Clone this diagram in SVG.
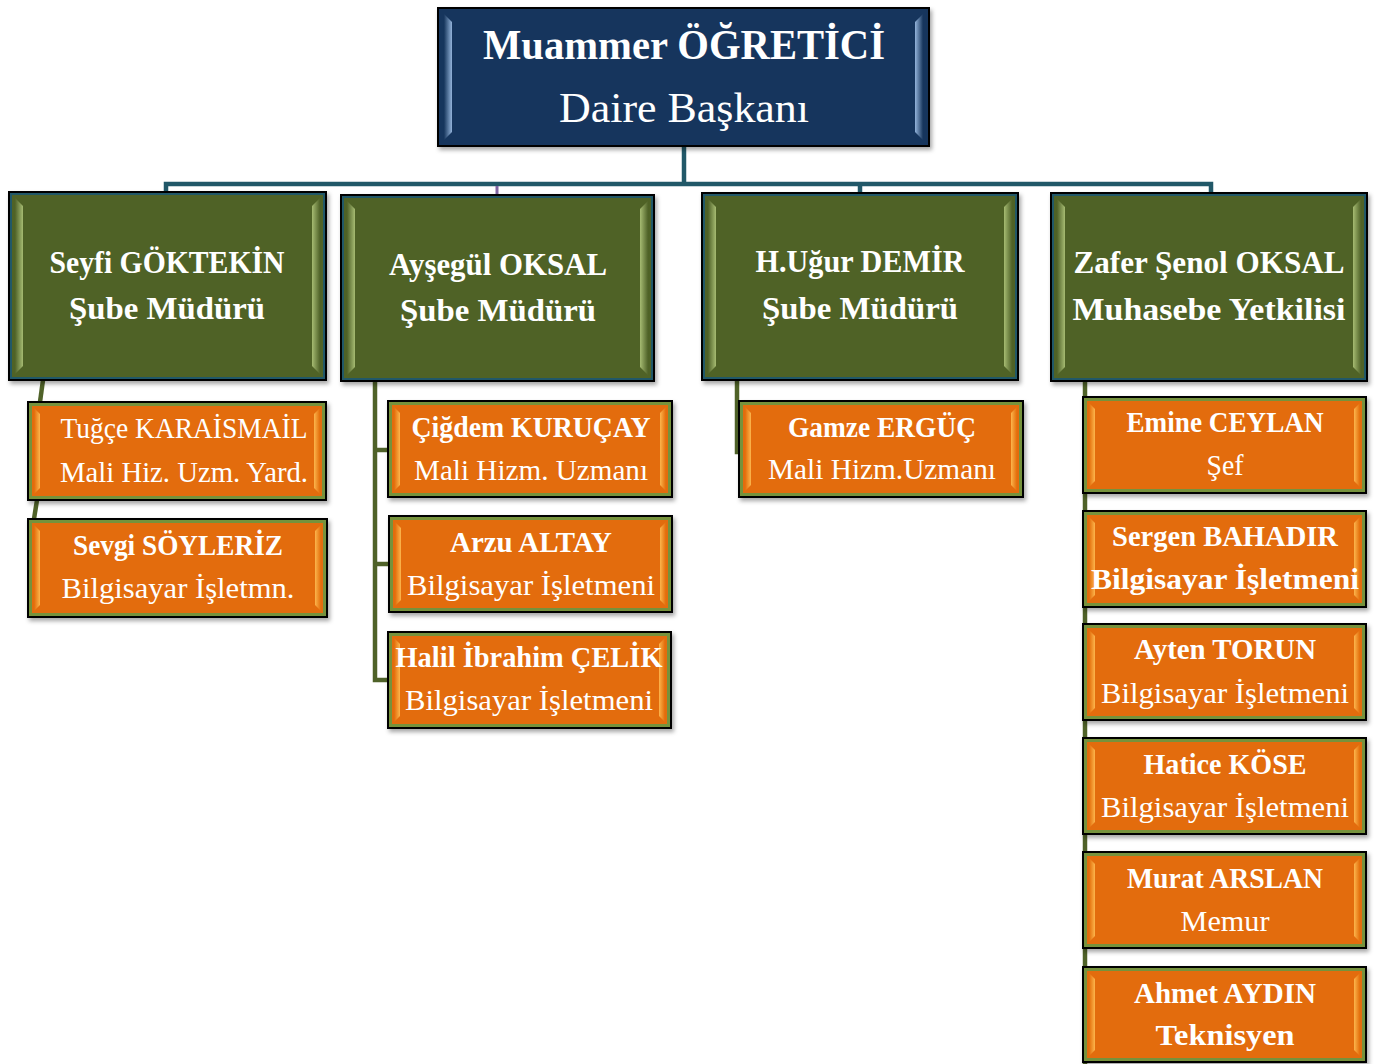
<svg xmlns="http://www.w3.org/2000/svg" width="1378" height="1064" viewBox="0 0 1378 1064">
<style>
.t{font-family:"Liberation Serif","DejaVu Serif",serif;fill:#ffffff;text-anchor:middle}
.b{font-weight:bold}
.top{font-size:42px}
.gt{font-size:31px}
.ot{font-size:29.5px}
.navy{fill:#17365d;stroke:#000;stroke-width:2}
.green{fill:#4f6228;stroke:#000;stroke-width:2}
.gin{fill:none;stroke:#215868;stroke-width:2}
.orange{fill:#e36c09;stroke:#000;stroke-width:2}
.oin{fill:none;stroke:#76923c;stroke-width:3}
.teal{stroke:#215868;stroke-width:4.5;fill:none}
.olive{stroke:#4f6228;stroke-width:4.5;fill:none}
</style>
<defs>
<filter id="sh" x="-5%" y="-5%" width="115%" height="120%"><feDropShadow dx="2" dy="3" stdDeviation="2" flood-color="#000" flood-opacity="0.35"/></filter>
<linearGradient id="nL" x1="0" y1="0" x2="1" y2="0"><stop offset="0" stop-color="#17365d"/><stop offset="1" stop-color="#93b3da"/></linearGradient>
<linearGradient id="nR" x1="1" y1="0" x2="0" y2="0"><stop offset="0" stop-color="#17365d"/><stop offset="1" stop-color="#93b3da"/></linearGradient>
<linearGradient id="gL" x1="0" y1="0" x2="1" y2="0"><stop offset="0" stop-color="#4f6228"/><stop offset="1" stop-color="#a6bb72"/></linearGradient>
<linearGradient id="gR" x1="1" y1="0" x2="0" y2="0"><stop offset="0" stop-color="#4f6228"/><stop offset="1" stop-color="#a6bb72"/></linearGradient>
<linearGradient id="oL" x1="0" y1="0" x2="1" y2="0"><stop offset="0" stop-color="#e36c09"/><stop offset="1" stop-color="#fcb54c"/></linearGradient>
<linearGradient id="oR" x1="1" y1="0" x2="0" y2="0"><stop offset="0" stop-color="#e36c09"/><stop offset="1" stop-color="#fcb54c"/></linearGradient>
</defs>

<g id="connectors">
<polyline class="teal" points="684,146 684,184"/>
<polyline class="teal" points="166,192 166,184 1211,184 1211,193"/>
<line class="teal" x1="860" y1="184" x2="860" y2="193"/>
<line x1="497" y1="186" x2="497" y2="195" stroke="#8064a2" stroke-width="3"/>
<line class="olive" x1="43" y1="380" x2="40" y2="402"/>
<line class="olive" x1="37" y1="500" x2="34" y2="519"/>
<polyline class="olive" points="375,381 375,680 390,680"/>
<line class="olive" x1="375" y1="450" x2="390" y2="450"/>
<line class="olive" x1="375" y1="564" x2="390" y2="564"/>
<polyline class="olive" points="737,380 737,452 740,452"/>
<line class="olive" x1="1085" y1="381" x2="1085" y2="1064"/>
</g>

<g id="n-muammer">
<rect class="navy" x="438" y="8" width="491" height="138" filter="url(#sh)"/>
<polygon fill="url(#nL)" points="444,14 452,22 452,132 444,140"/>
<polygon fill="url(#nR)" points="923,14 915,22 915,132 923,140"/>
<text class="t b top" x="684" y="59" textLength="402" lengthAdjust="spacingAndGlyphs">Muammer ÖĞRETİCİ</text>
<text class="t top" x="684" y="122" textLength="250" lengthAdjust="spacingAndGlyphs">Daire Başkanı</text>
</g>

<g id="n-seyfi">
<rect class="green" x="9" y="192" width="317" height="188" filter="url(#sh)"/>
<rect class="gin" x="11" y="194" width="313" height="184"/>
<polygon fill="url(#gL)" points="15,198 23,206 23,366 15,374"/>
<polygon fill="url(#gR)" points="320,198 312,206 312,366 320,374"/>
<text class="t b gt" x="167" y="273" textLength="235" lengthAdjust="spacingAndGlyphs">Seyfi GÖKTEKİN</text>
<text class="t b gt" x="167" y="319" textLength="196" lengthAdjust="spacingAndGlyphs">Şube Müdürü</text>
</g>

<g id="n-aysegul">
<rect class="green" x="341" y="195" width="313" height="186" filter="url(#sh)"/>
<rect class="gin" x="343" y="197" width="309" height="182"/>
<polygon fill="url(#gL)" points="347,201 355,209 355,367 347,375"/>
<polygon fill="url(#gR)" points="648,201 640,209 640,367 648,375"/>
<text class="t b gt" x="498" y="275" textLength="218" lengthAdjust="spacingAndGlyphs">Ayşegül OKSAL</text>
<text class="t b gt" x="498" y="321" textLength="196" lengthAdjust="spacingAndGlyphs">Şube Müdürü</text>
</g>

<g id="n-ugur">
<rect class="green" x="702" y="193" width="316" height="187" filter="url(#sh)"/>
<rect class="gin" x="704" y="195" width="312" height="183"/>
<polygon fill="url(#gL)" points="708,199 716,207 716,366 708,374"/>
<polygon fill="url(#gR)" points="1012,199 1004,207 1004,366 1012,374"/>
<text class="t b gt" x="860" y="272" textLength="209" lengthAdjust="spacingAndGlyphs">H.Uğur DEMİR</text>
<text class="t b gt" x="860" y="319" textLength="196" lengthAdjust="spacingAndGlyphs">Şube Müdürü</text>
</g>

<g id="n-zafer">
<rect class="green" x="1051" y="193" width="316" height="188" filter="url(#sh)"/>
<rect class="gin" x="1053" y="195" width="312" height="184"/>
<polygon fill="url(#gL)" points="1057,199 1065,207 1065,367 1057,375"/>
<polygon fill="url(#gR)" points="1361,199 1353,207 1353,367 1361,375"/>
<text class="t b gt" x="1209" y="273" textLength="271" lengthAdjust="spacingAndGlyphs">Zafer Şenol OKSAL</text>
<text class="t b gt" x="1209" y="320" textLength="273" lengthAdjust="spacingAndGlyphs">Muhasebe Yetkilisi</text>
</g>

<g id="n-tugce">
<rect class="orange" x="28" y="402" width="298" height="98" filter="url(#sh)"/>
<rect class="oin" x="30.5" y="404.5" width="293" height="93"/>
<polygon fill="url(#oL)" points="34,408 40,414 40,488 34,494"/>
<polygon fill="url(#oR)" points="320,408 314,414 314,488 320,494"/>
<text class="t ot" x="184" y="438" textLength="247" lengthAdjust="spacingAndGlyphs">Tuğçe KARAİSMAİL</text>
<text class="t ot" x="184" y="482" textLength="248" lengthAdjust="spacingAndGlyphs">Mali Hiz. Uzm. Yard.</text>
</g>

<g id="n-sevgi">
<rect class="orange" x="28" y="519" width="299" height="98" filter="url(#sh)"/>
<rect class="oin" x="30.5" y="521.5" width="294" height="93"/>
<polygon fill="url(#oL)" points="34,525 40,531 40,605 34,611"/>
<polygon fill="url(#oR)" points="321,525 315,531 315,605 321,611"/>
<text class="t b ot" x="178" y="555" textLength="210" lengthAdjust="spacingAndGlyphs">Sevgi SÖYLERİZ</text>
<text class="t ot" x="178" y="598" textLength="233" lengthAdjust="spacingAndGlyphs">Bilgisayar İşletmn.</text>
</g>

<g id="n-cigdem">
<rect class="orange" x="388" y="401" width="284" height="96" filter="url(#sh)"/>
<rect class="oin" x="390.5" y="403.5" width="279" height="91"/>
<polygon fill="url(#oL)" points="394,407 400,413 400,485 394,491"/>
<polygon fill="url(#oR)" points="666,407 660,413 660,485 666,491"/>
<text class="t b ot" x="531" y="437" textLength="239" lengthAdjust="spacingAndGlyphs">Çiğdem KURUÇAY</text>
<text class="t ot" x="531" y="480" textLength="234" lengthAdjust="spacingAndGlyphs">Mali Hizm. Uzmanı</text>
</g>

<g id="n-arzu">
<rect class="orange" x="389" y="516" width="283" height="96" filter="url(#sh)"/>
<rect class="oin" x="391.5" y="518.5" width="278" height="91"/>
<polygon fill="url(#oL)" points="395,522 401,528 401,600 395,606"/>
<polygon fill="url(#oR)" points="666,522 660,528 660,600 666,606"/>
<text class="t b ot" x="531" y="552" textLength="162" lengthAdjust="spacingAndGlyphs">Arzu ALTAY</text>
<text class="t ot" x="531" y="595" textLength="248" lengthAdjust="spacingAndGlyphs">Bilgisayar İşletmeni</text>
</g>

<g id="n-halil">
<rect class="orange" x="388" y="632" width="283" height="96" filter="url(#sh)"/>
<rect class="oin" x="390.5" y="634.5" width="278" height="91"/>
<polygon fill="url(#oL)" points="394,638 400,644 400,716 394,722"/>
<polygon fill="url(#oR)" points="665,638 659,644 659,716 665,722"/>
<text class="t b ot" x="529" y="667" textLength="267" lengthAdjust="spacingAndGlyphs">Halil İbrahim ÇELİK</text>
<text class="t ot" x="529" y="710" textLength="248" lengthAdjust="spacingAndGlyphs">Bilgisayar İşletmeni</text>
</g>

<g id="n-gamze">
<rect class="orange" x="739" y="401" width="284" height="96" filter="url(#sh)"/>
<rect class="oin" x="741.5" y="403.5" width="279" height="91"/>
<polygon fill="url(#oL)" points="745,407 751,413 751,485 745,491"/>
<polygon fill="url(#oR)" points="1017,407 1011,413 1011,485 1017,491"/>
<text class="t b ot" x="882" y="437" textLength="188" lengthAdjust="spacingAndGlyphs">Gamze ERGÜÇ</text>
<text class="t ot" x="882" y="479" textLength="228" lengthAdjust="spacingAndGlyphs">Mali Hizm.Uzmanı</text>
</g>

<g id="n-emine">
<rect class="orange" x="1083" y="397" width="283" height="96" filter="url(#sh)"/>
<rect class="oin" x="1085.5" y="399.5" width="278" height="91"/>
<polygon fill="url(#oL)" points="1089,403 1095,409 1095,481 1089,487"/>
<polygon fill="url(#oR)" points="1360,403 1354,409 1354,481 1360,487"/>
<text class="t b ot" x="1225" y="432" textLength="197" lengthAdjust="spacingAndGlyphs">Emine CEYLAN</text>
<text class="t ot" x="1225" y="475" textLength="37" lengthAdjust="spacingAndGlyphs">Şef</text>
</g>

<g id="n-sergen">
<rect class="orange" x="1083" y="511" width="283" height="96" filter="url(#sh)"/>
<rect class="oin" x="1085.5" y="513.5" width="278" height="91"/>
<polygon fill="url(#oL)" points="1089,517 1095,523 1095,595 1089,601"/>
<polygon fill="url(#oR)" points="1360,517 1354,523 1354,595 1360,601"/>
<text class="t b ot" x="1225" y="546" textLength="226" lengthAdjust="spacingAndGlyphs">Sergen BAHADIR</text>
<text class="t b ot" x="1225" y="589" textLength="268" lengthAdjust="spacingAndGlyphs">Bilgisayar İşletmeni</text>
</g>

<g id="n-ayten">
<rect class="orange" x="1083" y="624" width="283" height="96" filter="url(#sh)"/>
<rect class="oin" x="1085.5" y="626.5" width="278" height="91"/>
<polygon fill="url(#oL)" points="1089,630 1095,636 1095,708 1089,714"/>
<polygon fill="url(#oR)" points="1360,630 1354,636 1354,708 1360,714"/>
<text class="t b ot" x="1225" y="659" textLength="182" lengthAdjust="spacingAndGlyphs">Ayten TORUN</text>
<text class="t ot" x="1225" y="703" textLength="248" lengthAdjust="spacingAndGlyphs">Bilgisayar İşletmeni</text>
</g>

<g id="n-hatice">
<rect class="orange" x="1083" y="738" width="283" height="96" filter="url(#sh)"/>
<rect class="oin" x="1085.5" y="740.5" width="278" height="91"/>
<polygon fill="url(#oL)" points="1089,744 1095,750 1095,822 1089,828"/>
<polygon fill="url(#oR)" points="1360,744 1354,750 1354,822 1360,828"/>
<text class="t b ot" x="1225" y="774" textLength="163" lengthAdjust="spacingAndGlyphs">Hatice KÖSE</text>
<text class="t ot" x="1225" y="817" textLength="248" lengthAdjust="spacingAndGlyphs">Bilgisayar İşletmeni</text>
</g>

<g id="n-murat">
<rect class="orange" x="1083" y="852" width="283" height="96" filter="url(#sh)"/>
<rect class="oin" x="1085.5" y="854.5" width="278" height="91"/>
<polygon fill="url(#oL)" points="1089,858 1095,864 1095,936 1089,942"/>
<polygon fill="url(#oR)" points="1360,858 1354,864 1354,936 1360,942"/>
<text class="t b ot" x="1225" y="888" textLength="196" lengthAdjust="spacingAndGlyphs">Murat ARSLAN</text>
<text class="t ot" x="1225" y="931" textLength="89" lengthAdjust="spacingAndGlyphs">Memur</text>
</g>

<g id="n-ahmet">
<rect class="orange" x="1083" y="967" width="283" height="95" filter="url(#sh)"/>
<rect class="oin" x="1085.5" y="969.5" width="278" height="90"/>
<polygon fill="url(#oL)" points="1089,973 1095,979 1095,1050 1089,1056"/>
<polygon fill="url(#oR)" points="1360,973 1354,979 1354,1050 1360,1056"/>
<text class="t b ot" x="1225" y="1003" textLength="182" lengthAdjust="spacingAndGlyphs">Ahmet AYDIN</text>
<text class="t b ot" x="1225" y="1045" textLength="139" lengthAdjust="spacingAndGlyphs">Teknisyen</text>
</g>
</svg>
